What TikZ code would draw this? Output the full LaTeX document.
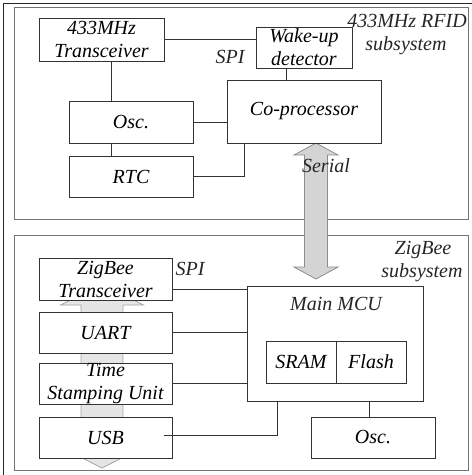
\documentclass[tikz,border=0pt]{standalone}
\usepackage{fontspec}
\setmainfont{Liberation Serif}
\usetikzlibrary{calc}
\begin{document}
\begin{tikzpicture}[x=1pt,y=-1pt,
  font=\fontsize{20}{23}\selectfont\itshape,
  blk/.style={draw=black!80, fill=white, line width=0.8pt, inner sep=0pt, align=center},
  subsys/.style={draw=black!55, line width=0.9pt},
  frame/.style={draw=black!85, line width=0.9pt},
  wire/.style={draw=black!80, line width=0.8pt},
  bigarrow/.style={draw=black!45, fill=black!17, line width=0.8pt, line join=miter},
  busarrow/.style={draw=black!35, fill=black!10, line width=0.8pt, line join=miter},
  lbl/.style={inner sep=0pt, text=black!85}]
\useasboundingbox (0,0) rectangle (472,475);
% frames
\draw[frame] (3,3) rectangle (490,490);
\draw[subsys] (14,7) rectangle (468,219);
\draw[subsys] (14,235) rectangle (468,470);
% wide arrows
\draw[bigarrow] (316,143) -- (338,155) -- (327.5,155) -- (327.5,267) -- (338,267) -- (316,279)
  -- (294,267) -- (304.5,267) -- (304.5,155) -- (294,155) -- cycle;
\draw[busarrow] (102,284) -- (143.5,305) -- (123,305) -- (123,447) -- (143.5,447) -- (102,468)
  -- (60.5,447) -- (81,447) -- (81,305) -- (60.5,305) -- cycle;
% RFID subsystem blocks
\node[blk, minimum width=125pt, minimum height=43pt] (trx1) at (101.5,39.5) {433MHz\\Transceiver};
\node[blk, minimum width=96pt, minimum height=41pt] (wake) at (304,47.5) {Wake-up\\detector};
\node[blk, minimum width=154pt, minimum height=63pt] (cop) at (304,111.5) {Co-processor};
\node[blk, minimum width=124pt, minimum height=42pt] (osc1) at (131,122) {Osc.};
\node[blk, minimum width=124pt, minimum height=41pt] (rtc) at (131,176.5) {RTC};
% ZigBee subsystem blocks
\node[blk, minimum width=133pt, minimum height=42pt] (zb) at (105.5,279) {ZigBee\\Transceiver};
\node[blk, minimum width=133pt, minimum height=41pt] (uart) at (105.5,332.5) {UART};
\node[blk, minimum width=133pt, minimum height=41pt] (tsu) at (105.5,383.5) {Time\\Stamping Unit};
\node[blk, minimum width=133pt, minimum height=41pt] (usb) at (105.5,437.5) {USB};
\node[blk, minimum width=176pt, minimum height=115pt, anchor=north] (mcu) at (335,286) {};
\node[lbl, anchor=base] (mcutxt) at (336,310) {Main MCU};
\node[blk, minimum width=70pt, minimum height=42pt] (sram) at (301,362) {SRAM};
\node[blk, minimum width=70pt, minimum height=42pt] (flash) at (371,362) {Flash};
\node[blk, minimum width=124pt, minimum height=41pt] (osc2) at (373,437.5) {Osc.};
% connectors RFID
\draw[wire] (trx1.east) -- (trx1.east -| wake.west);
\draw[wire] (wake.south -| 286,0) -- (cop.north -| 286,0);
\draw[wire] (trx1.south -| 111,0) -- (osc1.north -| 111,0);
\draw[wire] (osc1.south -| 111,0) -- (rtc.north -| 111,0);
\draw[wire] (osc1.east) -- (osc1.east -| cop.west);
\draw[wire] (rtc.east) -- (rtc.east -| 244,0) -- (cop.south -| 244,0);
% connectors ZigBee
\draw[wire] (zb.east |- 0,289) -- (mcu.west |- 0,289);
\draw[wire] (uart.east) -- (uart.east -| mcu.west);
\draw[wire] (tsu.east |- 0,383) -- (mcu.west |- 0,383);
\coordinate (usbout) at (164,435);
\draw[wire] (usbout) -- (277,435) -- (mcu.south -| 277,0);
\draw[wire] (mcu.south -| 369,0) -- (osc2.north -| 369,0);
% labels
\node[lbl, anchor=base] (spi1) at (230,63) {SPI};
\node[lbl, anchor=base] (rfid1) at (407,27) {433MHz RFID};
\node[lbl, anchor=base] (rfid2) at (406,50) {subsystem};
\node[lbl, anchor=base] (serial) at (326,172) {Serial};
\node[lbl, anchor=base] (spi2) at (190,275) {SPI};
\node[lbl, anchor=base] (zig1) at (423,254) {ZigBee};
\node[lbl, anchor=base] (zig2) at (422,277) {subsystem};
\end{tikzpicture}
\end{document}
